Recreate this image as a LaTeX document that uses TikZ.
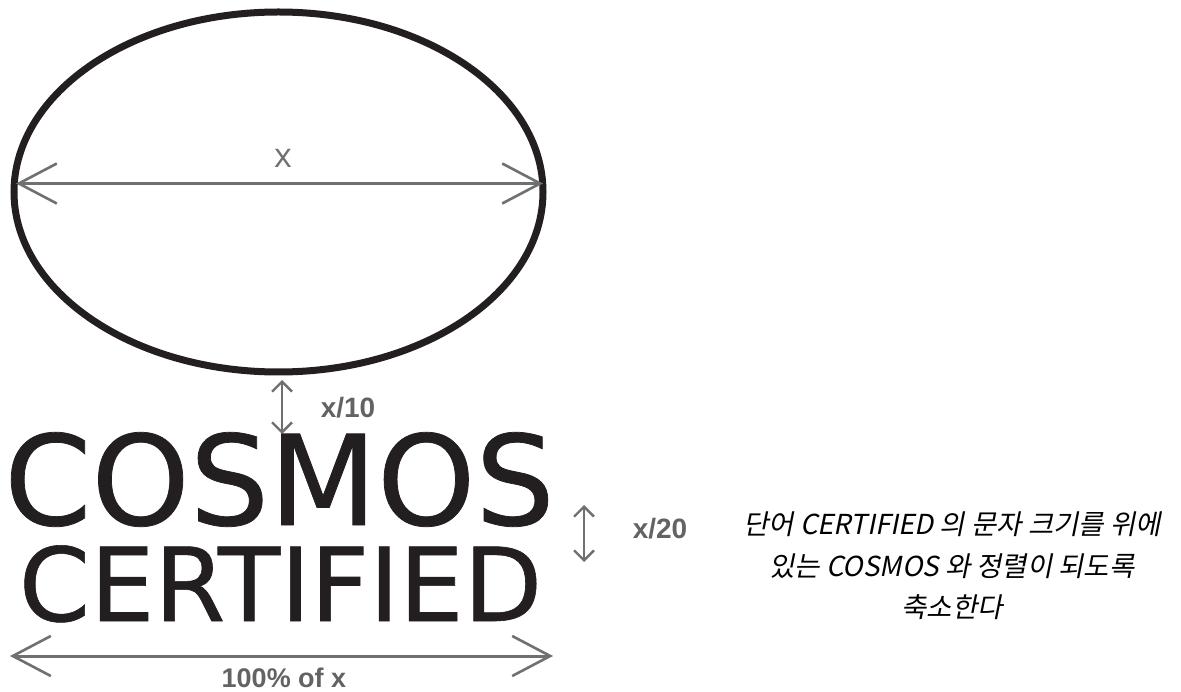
\documentclass[tikz,border=0pt]{standalone}
\usepackage{fontspec}
\setmainfont{DejaVu Sans}
\newfontfamily\logofont[FakeBold=0.6]{DejaVu Sans}
\newfontfamily\labfont{Liberation Sans}
\newfontfamily\xfont{Open Sans}
\newfontfamily\krfont[FakeSlant=0.2]{Noto Sans CJK KR}
\usetikzlibrary{arrows.meta,shapes.geometric}
\definecolor{ink}{HTML}{231F20}
\definecolor{dimgray}{HTML}{707070}
\definecolor{labgray}{HTML}{636363}
\tikzset{
  bigdim/.style={draw=dimgray, line width=3pt, {Straight Barb[length=38pt,width=40pt,line width=2.6pt]}-{Straight Barb[length=38pt,width=40pt,line width=2.6pt]}},
  smalldim/.style={draw=dimgray, line width=2.6pt, {Straight Barb[length=10pt,width=20pt,line width=2.4pt]}-{Straight Barb[length=10pt,width=20pt,line width=2.4pt]}},
  boldlab/.style={font=\labfont\bfseries\fontsize{28}{28}\selectfont, text=labgray, inner sep=0pt},
  logotext/.style={text=ink, inner sep=0pt, anchor=base, text depth=0pt},
}
\begin{document}
\begin{tikzpicture}[x=1pt,y=-1pt]
\useasboundingbox (0,0) rectangle (1181,692);
\node[ellipse, draw=ink, line width=7pt, minimum width=529pt, minimum height=360pt, inner sep=0pt] (oval) at (278.5,192) {};
\coordinate (dl) at (16,183.5);
\coordinate (dr) at (543,183.5);
\draw[bigdim] (dl) -- (dr);
\node[font=\xfont\fontsize{34}{34}\selectfont, text=dimgray, inner sep=0pt] (xlab) at (283,158) {x};

\coordinate (t10) at (282,380);
\coordinate (b10) at (282,434);
\draw[smalldim] (t10) -- (b10);
\node[boldlab] (lab10) at (348,408) {x/10};

\node[logotext, font=\logofont\fontsize{125}{125}\selectfont] (cosmos) at (279.5,525) {COSMOS};
\node[logotext, font=\logofont\fontsize{102}{102}\selectfont] (cert) at (280.5,621) {CERTIFIED};

\coordinate (t20) at (584,505);
\coordinate (b20) at (584,562);
\draw[smalldim] (t20) -- (b20);
\node[boldlab] (lab20) at (660,529) {x/20};

\coordinate (bl) at (10,656);
\coordinate (br) at (553,656);
\draw[bigdim] (bl) -- (br);
\node[boldlab, anchor=base, text depth=0pt, font=\labfont\bfseries\fontsize{27}{27}\selectfont] (lab100) at (284,687) {100\% of x};

\node[font=\krfont\fontsize{27.5}{41.5}\selectfont, align=center, text=black, inner sep=0pt] (note) at (952,566) {단어 CERTIFIED 의 문자 크기를 위에\\있는 COSMOS 와 정렬이 되도록\\축소한다};
\end{tikzpicture}
\end{document}
